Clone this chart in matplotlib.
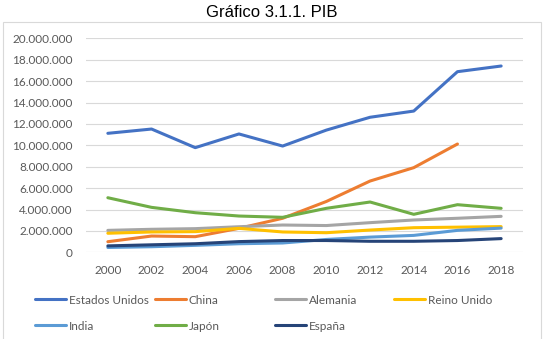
import matplotlib
matplotlib.use("Agg")
import matplotlib.pyplot as plt
from matplotlib.patches import Rectangle
from matplotlib.lines import Line2D

years = ["2000", "2002", "2004", "2006", "2008", "2010", "2012", "2014", "2016", "2018"]
estados_unidos = [11.12e6, 11.52e6, 9.78e6, 11.06e6, 9.93e6, 11.42e6, 12.62e6, 13.2e6, 16.88e6, 17.41e6]
china = [0.99e6, 1.52e6, 1.46e6, 2.24e6, 3.18e6, 4.75e6, 6.66e6, 7.91e6, 10.12e6, None]
alemania = [2.05e6, 2.15e6, 2.21e6, 2.39e6, 2.55e6, 2.5e6, 2.77e6, 3.02e6, 3.18e6, 3.36e6]
reino_unido = [1.78e6, 1.9e6, 1.93e6, 2.24e6, 1.9e6, 1.83e6, 2.08e6, 2.3e6, 2.35e6, 2.4e6]
india = [0.45e6, 0.52e6, 0.65e6, 0.8e6, 0.87e6, 1.2e6, 1.42e6, 1.58e6, 2.05e6, 2.26e6]
japon = [5.1e6, 4.2e6, 3.7e6, 3.39e6, 3.27e6, 4.11e6, 4.7e6, 3.55e6, 4.45e6, 4.11e6]
espana = [0.6e6, 0.7e6, 0.8e6, 1.0e6, 1.1e6, 1.1e6, 1.03e6, 1.03e6, 1.1e6, 1.28e6]
y_ticks = [0, 2e6, 4e6, 6e6, 8e6, 10e6, 12e6, 14e6, 16e6, 18e6, 20e6]

series = [
    ("Estados Unidos", estados_unidos, "#4472C4"),
    ("China", china, "#ED7D31"),
    ("Alemania", alemania, "#A5A5A5"),
    ("Reino Unido", reino_unido, "#FFC000"),
    ("India", india, "#5B9BD5"),
    ("Japón", japon, "#70AD47"),
    ("España", espana, "#264478"),
]

W, H = 546, 339
fig = plt.figure(figsize=(W / 100, H / 100), dpi=100)
ax = fig.add_axes([86 / W, 1 - 252.3 / H, (523 - 86) / W, (252.3 - 38.3) / H])

FONT = "Lato"
FS = 8.5
TXT = "#595959"

x = list(range(len(years)))
for name, vals, col in series:
    xs = [xi for xi, v in zip(x, vals) if v is not None]
    vs = [v for v in vals if v is not None]
    ax.plot(xs, vs, color=col, lw=2.2, solid_capstyle="round", solid_joinstyle="round", zorder=3)

ax.set_xlim(-0.5, len(years) - 0.5)
ax.set_ylim(0, 20e6)
ax.set_yticks(y_ticks)
ax.set_yticklabels(["0" if v == 0 else f"{int(v):,}".replace(",", ".") for v in y_ticks])
ax.set_xticks(x)
ax.set_xticklabels(years)
ax.grid(axis="y", color="#D9D9D9", lw=0.8, zorder=0)
ax.set_axisbelow(True)
for s in ax.spines.values():
    s.set_visible(False)
ax.tick_params(axis="both", length=0, labelsize=FS, labelcolor=TXT)
ax.tick_params(axis="y", pad=9.5)
ax.tick_params(axis="x", pad=9)
for lab in ax.get_xticklabels() + ax.get_yticklabels():
    lab.set_fontfamily(FONT)

# chart border
fig.patches.append(Rectangle((3 / W, -0.05), (540.7 - 3) / W, (H - 21.7) / H + 0.05,
                             transform=fig.transFigure, fill=False,
                             edgecolor="#D9D9D9", lw=0.8, zorder=0))

fig.text(0.497, 1 - 17.3 / H, "Gráfico 3.1.1. PIB", ha="center", va="baseline",
         fontsize=12, family="Liberation Sans", color="#000000")

# legend: Excel-like uniform grid
col_x = [35, 155, 275, 394]
row_y = [300, 326]
positions = [(0, 0), (1, 0), (2, 0), (3, 0), (0, 1), (1, 1), (2, 1)]
for (name, vals, col), (c, r) in zip(series, positions):
    h = Line2D([], [], color=col, lw=2.2, solid_capstyle="round")
    fig.legend([h], [name], loc="center left",
               bbox_to_anchor=(col_x[c] / W, 1 - row_y[r] / H),
               frameon=False, borderpad=0, borderaxespad=0,
               handlelength=2.65, handletextpad=0.22,
               prop={"family": FONT, "size": FS}, labelcolor=TXT)

fig.savefig("out.png", dpi=100)
